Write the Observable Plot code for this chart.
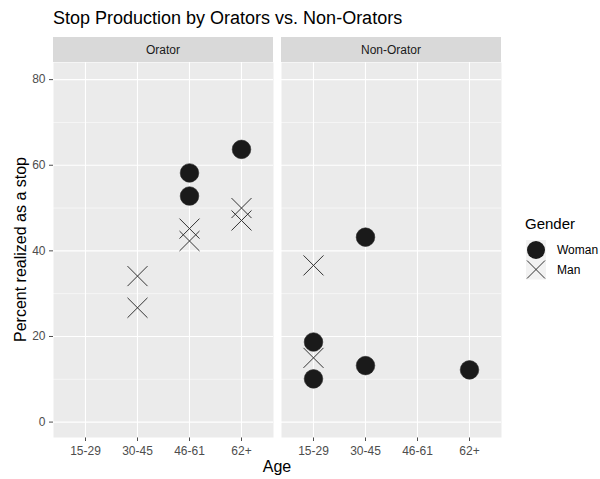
<!DOCTYPE html>
<html>
<head>
<meta charset="utf-8">
<script src="https://cdn.jsdelivr.net/npm/d3@7"></script>
<script src="https://cdn.jsdelivr.net/npm/@observablehq/plot@0.6"></script>
<style>
  html, body { margin: 0; padding: 0; background: white; }
  #wrap { position: relative; width: 600px; height: 479px; background: white; font-family: "Liberation Sans", Arial, sans-serif; }
  #chart { position: absolute; left: 0; top: 32px; }
  #overlay { position: absolute; left: 0; top: 0; pointer-events: none; }
</style>
</head>
<body>
<div id="wrap">
  <div id="chart"></div>
  <svg id="overlay" width="600" height="479"></svg>
</div>
<script>
// ---- data ----
const panels = ["Orator", "Non-Orator"];
const ages = ["15-29", "30-45", "46-61", "62+"];
const genders = ["Woman", "Man"];
const yTicks = [0, 20, 40, 60, 80];
const yMinorTicks = [10, 30, 50, 70];

const obsPanel  = ["Orator","Orator","Orator","Orator","Orator","Orator","Orator","Orator","Orator",
                   "Non-Orator","Non-Orator","Non-Orator","Non-Orator","Non-Orator","Non-Orator","Non-Orator"];
const obsAge    = ["46-61","46-61","62+","30-45","30-45","46-61","46-61","62+","62+",
                   "15-29","15-29","15-29","15-29","30-45","30-45","62+"];
const obsGender = ["Woman","Woman","Woman","Man","Man","Man","Man","Man","Man",
                   "Man","Man","Woman","Woman","Woman","Woman","Woman"];
const obsPercent = [58.2, 52.8, 63.7, 34.1, 26.7, 45.2, 42.3, 50.0, 47.1,
                    36.6, 15.0, 18.7, 10.1, 43.2, 13.2, 12.2];

const data = obsPanel.map((p, i) => ({panel: p, age: obsAge[i], gender: obsGender[i], pct: obsPercent[i]}));
const women = data.filter(d => d.gender === "Woman");
const men = data.filter(d => d.gender === "Man");

const W = 600, H = 447;
const mL = 53, mR = 99, mT = 30, mB = 42;

const plot = Plot.plot({
  width: W, height: H,
  marginLeft: mL, marginRight: mR, marginTop: mT, marginBottom: mB,
  style: {fontFamily: "'Liberation Sans', Arial, sans-serif", fontSize: "12px", color: "#4D4D4D", background: "transparent", overflow: "visible"},
  fx: {domain: panels, paddingInner: 8 / 228, paddingOuter: 0, axis: null, label: null},
  x: {type: "point", domain: ages, padding: 0.6, label: null, tickSize: 4, tickPadding: 5},
  y: {domain: [-3.6, 84], ticks: yTicks, label: null, tickSize: 4, tickPadding: 4},
  marks: [
    Plot.frame({fill: "#EBEBEB", stroke: "none"}),
    Plot.gridY(yMinorTicks, {stroke: "white", strokeOpacity: 1, strokeWidth: 0.55}),
    Plot.gridY(yTicks, {stroke: "white", strokeOpacity: 1, strokeWidth: 1.1}),
    Plot.gridX(ages, {stroke: "white", strokeOpacity: 1, strokeWidth: 1.1}),
    Plot.dot(men, {fx: "panel", x: "age", y: "pct", symbol: "times", r: 9.15, stroke: "#333333", strokeWidth: 1}),
    Plot.dot(women, {fx: "panel", x: "age", y: "pct", symbol: "circle", r: 9.3, fill: "#1A1A1A", stroke: "#2a2a2a", strokeWidth: 0.6})
  ]
});
document.getElementById("chart").appendChild(plot);

// tick label text styling to match reference
d3.select(plot).selectAll("text").style("font-size", "12px").attr("fill", "#4D4D4D");

// strips (facet labels) drawn above each panel
const fxs = plot.scale("fx");
const svgSel = d3.select(plot);
const stripG = svgSel.append("g");
panels.forEach(p => {
  const x0 = fxs.apply(p);
  const bw = fxs.bandwidth;
  stripG.append("rect").attr("x", x0).attr("y", mT - 25).attr("width", bw).attr("height", 25).attr("fill", "#D9D9D9");
  stripG.append("text").attr("x", x0 + bw / 2).attr("y", mT - 12.5).attr("dy", "0.35em")
    .attr("text-anchor", "middle").attr("fill", "#1A1A1A").style("font-size", "12px").text(p);
});

// overlay: title, axis titles, legend
const ov = d3.select("#overlay").attr("font-family", "'Liberation Sans', Arial, sans-serif");
ov.append("text").attr("x", 53).attr("y", 24).attr("font-size", 18).attr("fill", "#000").text("Stop Production by Orators vs. Non-Orators");
ov.append("text").attr("x", (mL + (W - mR)) / 2).attr("y", 472).attr("text-anchor", "middle").attr("font-size", 16).attr("fill", "#000").text("Age");
ov.append("text").attr("transform", `translate(26,${32 + mT + (H - mT - mB) / 2}) rotate(-90)`).attr("text-anchor", "middle").attr("font-size", 16).attr("fill", "#000").text("Percent realized as a stop");

const lg = ov.append("g");
lg.append("text").attr("x", 525).attr("y", 229).attr("font-size", 15).attr("fill", "#000").text("Gender");
genders.forEach((g, i) => {
  const cy = 250 + i * 19.5;
  lg.append("rect").attr("x", 526).attr("y", cy - 10).attr("width", 20).attr("height", 20).attr("fill", "#F2F2F2");
  if (g === "Woman") {
    lg.append("circle").attr("cx", 536).attr("cy", cy).attr("r", 9).attr("fill", "#1A1A1A");
  } else {
    const s = 9;
    lg.append("path").attr("d", `M${536 - s},${cy - s}L${536 + s},${cy + s}M${536 - s},${cy + s}L${536 + s},${cy - s}`)
      .attr("stroke", "#333333").attr("stroke-width", 1).attr("fill", "none");
  }
  lg.append("text").attr("x", 557).attr("y", cy).attr("dy", "0.35em").attr("font-size", 12).attr("fill", "#000").text(g);
});
</script>
</body>
</html>
